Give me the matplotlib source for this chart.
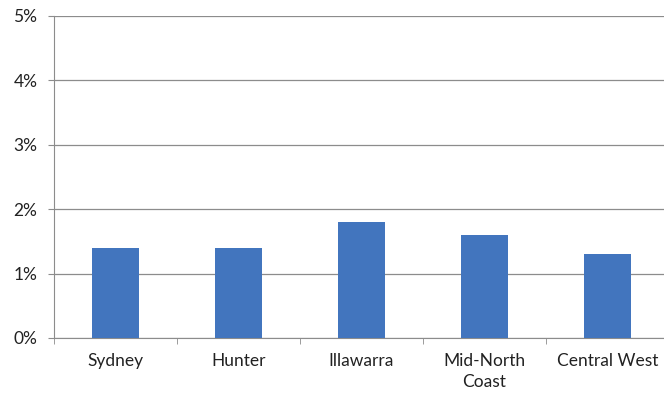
import matplotlib.pyplot as plt
import numpy as np
from matplotlib.ticker import FuncFormatter

regions = ['Sydney', 'Hunter', 'Illawarra', 'Mid-North\nCoast', 'Central West']
values = [1.4, 1.4, 1.8, 1.6, 1.3]

plt.rcParams['font.family'] = ['Lato', 'DejaVu Sans']

fig = plt.figure(figsize=(6.64, 3.95), dpi=100)
ax = fig.add_axes([54 / 664, (395 - 338) / 395, 615 / 664, 322 / 395])

x = np.arange(len(regions))
ax.bar(x, values, width=0.39, color='#4275BE', zorder=3)

ax.set_xlim(-0.5, len(regions) - 0.5)
ax.set_ylim(0, 5)
ax.set_yticks(np.arange(0, 6, 1))
ax.yaxis.set_major_formatter(FuncFormatter(lambda v, p: '%d%%' % v))
ax.grid(axis='y', color='#8c8c8c', linewidth=0.9, zorder=0)

ax.set_xticks(x)
ax.set_xticklabels(regions, linespacing=1.4)
ax.set_xticks(np.arange(-0.5, len(regions), 1), minor=True)
ax.tick_params(axis='x', which='major', length=0, pad=11, labelsize=12.5, colors='#222222')
ax.tick_params(axis='x', which='minor', length=4, color='#8c8c8c', direction='out')
ax.tick_params(axis='y', length=4, color='#8c8c8c', labelsize=12.5, labelcolor='#222222', pad=8)

for s in ['top', 'right']:
    ax.spines[s].set_visible(False)
ax.spines['left'].set_color('#8c8c8c')
ax.spines['bottom'].set_color('#8c8c8c')

fig.savefig('out.png', dpi=100)
